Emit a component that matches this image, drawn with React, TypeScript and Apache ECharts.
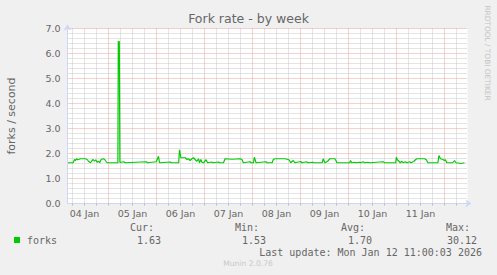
import React, { useEffect, useRef } from "react";
import * as echarts from "echarts";

// hours since 04 Jan 00:00
const hours = [
  3.5, 6.3, 7.0, 7.5, 8.0, 8.6, 9.1, 10.0, 12.5, 13.3, 14.1, 15.0, 15.8, 16.3, 17.0, 17.6, 18.3, 19.0, 19.6, 20.3,
  21.3, 22.1, 22.8, 23.3, 28.7, 28.9, 29.4, 29.7, 31.6, 32.4, 42.9, 43.5, 47.9, 49.0, 49.5, 54.9, 55.4, 59.1, 59.5, 60.2,
  62.4, 63.2, 64.0, 64.8, 65.7, 66.5, 67.3, 68.2, 69.0, 69.5, 70.2, 70.7, 71.5, 72.8, 73.5, 75.7, 76.2, 79.0, 79.5, 81.5,
  82.3, 85.8, 89.8, 90.8, 91.4, 94.8, 95.3, 96.5, 96.9, 97.8, 102.8, 103.3, 105.8, 106.4, 107.2, 112.2, 114.2, 115.1, 116.4, 117.2,
  120.1, 120.7, 123.0, 123.7, 126.2, 126.7, 130.9, 131.3, 132.2, 133.7, 134.7, 137.2, 137.7, 138.2, 144.6, 145.0, 145.6, 147.1, 147.6, 149.6,
  150.1, 151.3, 152.1, 153.8, 154.6, 161.3, 162.1, 167.6, 167.9, 168.4, 169.2, 169.9, 170.7, 171.3, 172.4, 173.1, 174.6, 175.3, 176.6, 177.6,
  178.2, 182.1, 182.9, 183.7, 188.7, 189.2, 190.0, 191.2, 192.0, 192.5, 193.1, 196.1, 197.0, 197.8, 200.3, 202.0,
];
const forks = [
  1.63, 1.63, 1.76, 1.72, 1.79, 1.75, 1.76, 1.79, 1.79, 1.76, 1.68, 1.63, 1.72, 1.76, 1.69, 1.75, 1.65, 1.69, 1.63, 1.76,
  1.79, 1.76, 1.68, 1.63, 1.63, 6.48, 6.48, 1.64, 1.67, 1.63, 1.67, 1.63, 1.67, 1.89, 1.63, 1.66, 1.63, 1.63, 2.15, 1.83,
  1.83, 1.76, 1.79, 1.72, 1.79, 1.83, 1.76, 1.69, 1.79, 1.63, 1.76, 1.65, 1.63, 1.75, 1.63, 1.66, 1.63, 1.66, 1.63, 1.63,
  1.79, 1.77, 1.79, 1.75, 1.63, 1.67, 1.63, 1.63, 1.85, 1.63, 1.67, 1.63, 1.63, 1.76, 1.79, 1.79, 1.75, 1.63, 1.72, 1.63,
  1.68, 1.63, 1.67, 1.63, 1.65, 1.63, 1.63, 1.79, 1.63, 1.70, 1.79, 1.79, 1.72, 1.63, 1.63, 1.72, 1.63, 1.65, 1.63, 1.65,
  1.63, 1.67, 1.63, 1.65, 1.63, 1.67, 1.63, 1.63, 1.85, 1.75, 1.69, 1.63, 1.69, 1.63, 1.67, 1.63, 1.67, 1.63, 1.68, 1.76,
  1.79, 1.79, 1.75, 1.63, 1.63, 1.92, 1.79, 1.76, 1.72, 1.75, 1.63, 1.63, 1.72, 1.63, 1.60, 1.63,
];

const dayLabels = ["04 Jan", "05 Jan", "06 Jan", "07 Jan", "08 Jan", "09 Jan", "10 Jan", "11 Jan"];
const dayLabelHours = [12, 36, 60, 84, 108, 132, 156, 180];
const dayStartHours = [24, 48, 72, 96, 120, 144, 168, 192];
const sixHourTicks = [
  6, 12, 18, 30, 36, 42, 54, 60, 66, 78, 84, 90, 102, 108, 114, 126, 132, 138, 150, 156, 162, 174, 180, 186, 198,
];
const allTicks = [...sixHourTicks, ...dayStartHours].sort((a, b) => a - b);
const yMajor = [1, 2, 3, 4, 5, 6, 7];
const yMinor = [
  0.2, 0.4, 0.6, 0.8, 1.2, 1.4, 1.6, 1.8, 2.2, 2.4, 2.6, 2.8, 3.2, 3.4, 3.6, 3.8, 4.2, 4.4, 4.6, 4.8, 5.2, 5.4, 5.6,
  5.8, 6.2, 6.4, 6.6, 6.8,
];

const statHeaders = ["Cur:", "Min:", "Avg:", "Max:"];
const statValues = ["1.63", "1.53", "1.70", "30.12"];
const seriesName = "forks";
const lastUpdate = "Last update: Mon Jan 12 11:00:03 2026";
const version = "Munin 2.0.76";

const SANS = "DejaVu Sans";
const MONO = "DejaVu Sans Mono";
const FONT_COLOR = "#666666";
const AXIS_COLOR = "#CFD6F8";
const MAJOR = "#eea0a0";
const MINOR = "#c8c8c8";
const LINE = "#00cc00";
const X_MIN = 3.5;
const X_MAX = 203.5;

export default function App() {
  const ref = useRef<HTMLDivElement>(null);
  useEffect(() => {
    if (!ref.current) return;
    const chart = echarts.init(ref.current, undefined, { renderer: "svg" });
    const headerRight = [154, 259, 365, 470];
    const valueRight = [161, 266, 372, 477];
    const graphics: any[] = [
      {
        type: "text",
        x: 487,
        y: 53,
        rotation: -Math.PI / 2,
        style: {
          text: "RRDTOOL / TOBI OETIKER",
          fill: "#c4c4c4",
          font: `7.4px '${SANS}'`,
          align: "center",
          verticalAlign: "middle",
        },
      },
      { type: "rect", shape: { x: 14, y: 237, width: 6, height: 6 }, style: { fill: LINE } },
      {
        type: "text",
        x: 27,
        y: 240,
        style: { text: seriesName, fill: FONT_COLOR, font: `10px '${MONO}'`, align: "left", verticalAlign: "middle" },
      },
      {
        type: "text",
        x: 482,
        y: 252,
        style: { text: lastUpdate, fill: FONT_COLOR, font: `10px '${MONO}'`, align: "right", verticalAlign: "middle" },
      },
      {
        type: "text",
        x: 248,
        y: 263,
        style: { text: version, fill: "#c8c8c8", font: `7.6px '${SANS}'`, align: "center", verticalAlign: "middle" },
      },
    ];
    statHeaders.forEach((h, i) => {
      graphics.push({
        type: "text",
        x: headerRight[i],
        y: 227,
        style: { text: h, fill: FONT_COLOR, font: `10px '${MONO}'`, align: "right", verticalAlign: "middle" },
      });
      graphics.push({
        type: "text",
        x: valueRight[i],
        y: 240,
        style: { text: statValues[i], fill: FONT_COLOR, font: `10px '${MONO}'`, align: "right", verticalAlign: "middle" },
      });
    });

    const minorStyle = { color: MINOR, type: [1, 1], width: 1 };
    const majorStyle = { color: MAJOR, type: [1, 1], width: 1 };

    chart.setOption({
      animation: false,
      backgroundColor: "#f0f0f0",
      textStyle: { fontFamily: SANS },
      title: {
        text: "Fork rate - by week",
        left: "center",
        top: 12,
        padding: 0,
        textStyle: { fontSize: 12.5, fontWeight: "normal", color: FONT_COLOR, fontFamily: SANS },
      },
      grid: {
        left: 67.5,
        top: 28.5,
        width: 400,
        height: 175,
        show: false,
        containLabel: false,
        outerBoundsMode: "none",
      },
      xAxis: [
        {
          type: "value",
          z: 6,
          min: X_MIN,
          max: X_MAX,
          axisLine: {
            show: true,
            symbol: ["none", "arrow"],
            symbolSize: [6, 6],
            symbolOffset: [0, 4],
            lineStyle: { color: AXIS_COLOR, width: 1 },
          },
          axisTick: {
            show: true,
            length: 2,
            customValues: allTicks,
            lineStyle: { color: "#bbbbbb" },
          },
          axisLabel: {
            customValues: dayLabelHours,
            formatter: (v: number) => dayLabels[dayLabelHours.indexOf(Math.round(v))] ?? "",
            fontSize: 9.5,
            color: FONT_COLOR,
            fontFamily: SANS,
            margin: 5,
          },
          splitLine: { show: false },
        },
      ],
      yAxis: {
        type: "value",
        z: 6,
        min: 0,
        max: 7,
        interval: 1,
        name: "forks / second",
        nameLocation: "middle",
        nameGap: 51,
        nameTextStyle: { fontSize: 11, color: FONT_COLOR, fontFamily: SANS },
        axisLine: {
          show: true,
          symbol: ["none", "arrow"],
          symbolSize: [6, 6],
          symbolOffset: [0, 4],
          lineStyle: { color: AXIS_COLOR, width: 1 },
        },
        axisTick: { show: false },
        axisLabel: {
          formatter: (v: number) => v.toFixed(1),
          fontSize: 9.5,
          color: FONT_COLOR,
          fontFamily: SANS,
          margin: 7,
        },
        splitLine: { show: false },
      },
      graphic: graphics,
      series: [
        {
          name: seriesName,
          type: "line",
          z: 5,
          data: hours.map((h, i) => [h, forks[i]]),
          symbol: "none",
          lineStyle: { color: LINE, width: 1.2 },
          itemStyle: { color: LINE },
          markArea: {
            z: 1,
            silent: true,
            itemStyle: { color: "#ffffff" },
            label: { show: false },
            data: [[{ xAxis: X_MIN, yAxis: 0 }, { xAxis: X_MAX, yAxis: 7 }]],
          },
          markLine: {
            z: 2,
            silent: true,
            symbol: ["none", "none"],
            label: { show: false },
            animation: false,
            data: [
              ...sixHourTicks.map((h) => ({ xAxis: h, lineStyle: minorStyle })),
              ...yMinor.map((v) => ({ yAxis: v, lineStyle: minorStyle })),
              ...dayStartHours.map((h) => ({ xAxis: h, lineStyle: majorStyle })),
              ...yMajor.map((v) => ({ yAxis: v, lineStyle: majorStyle })),
            ],
          },
        },
      ],
    });
    return () => chart.dispose();
  }, []);
  return (
    <div
      ref={ref}
      style={{ position: "fixed", left: 0, top: 0, width: 497, height: 275 }}
    />
  );
}
